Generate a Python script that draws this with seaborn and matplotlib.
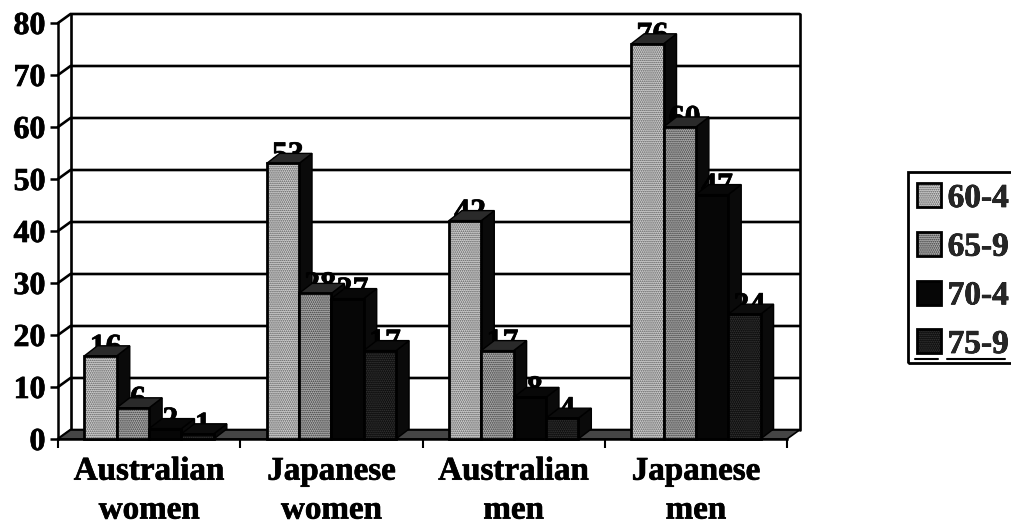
import matplotlib
matplotlib.use("Agg")
import matplotlib.pyplot as plt
import matplotlib.patheffects as pe
from matplotlib.patches import Patch, Polygon, Rectangle
from matplotlib.lines import Line2D
from matplotlib.legend_handler import HandlerTuple
import pandas as pd
import seaborn as sns

groups = ["Australian\nwomen", "Japanese\nwomen", "Australian\nmen", "Japanese\nmen"]
ages = ["60-4", "65-9", "70-4", "75-9"]
age_60_4 = [16, 53, 42, 76]
age_65_9 = [6, 28, 17, 60]
age_70_4 = [2, 27, 8, 47]
age_75_9 = [1, 17, 4, 24]
y_ticks = [0, 10, 20, 30, 40, 50, 60, 70, 80]

face_colors = ["#d2d2d2", "#b0b0b0", "#060606", "#0c0c0c"]
hatch_colors = ["#555555", "#333333", "#060606", "#3a3a3a"]
top_colors = ["#2a2a2a", "#2a2a2a", "#080808", "#0c0c0c"]
side_color = "#0a0a0a"
floor_color = "#454545"

W, H = 1011, 526
sns.set_theme(style="white")
plt.rcParams["font.family"] = ["Liberation Serif", "DejaVu Serif"]
plt.rcParams["font.weight"] = "bold"
plt.rcParams["hatch.linewidth"] = 0.8

heavy = [pe.withStroke(linewidth=0.5, foreground="black")]

fig = plt.figure(figsize=(W / 100, H / 100), dpi=100, facecolor="white")
left, right, top, bottom = 58, 787, 23, 439
ax = fig.add_axes([left / W, 1 - bottom / H, (right - left) / W, (bottom - top) / H])

frame = pd.DataFrame({
    "group": groups * 4,
    "age": [a for a in ages for _ in groups],
    "value": age_60_4 + age_65_9 + age_70_4 + age_75_9,
})
sns.barplot(data=frame, x="group", y="value", hue="age", hue_order=ages, order=groups,
            palette=face_colors, saturation=1, width=0.71, gap=0, dodge=True,
            legend=False, ax=ax, zorder=10)
ax.set_xlim(-0.5, 3.5)
ax.set_ylim(0, 80)
ax.set_xlabel("")
ax.set_ylabel("")

# Pixel depth of the walls and of the bars, converted to data units
px_x = 4 / (right - left)
px_y = 80 / (bottom - top)
wall_dx, wall_dy = 12.5 * px_x, 9 * px_y
bar_dx, bar_dy = 13 * px_x, 10 * px_y

# Back wall, side wall and floor
ax.add_patch(Polygon([(-0.5, 0), (3.5, 0), (3.5 + wall_dx, wall_dy), (-0.5 + wall_dx, wall_dy)],
                     closed=True, facecolor=floor_color, edgecolor="black", lw=1.2,
                     clip_on=False, zorder=3))
for v in y_ticks:
    ax.plot([-0.5, -0.5 + wall_dx, 3.5 + wall_dx], [v, v + wall_dy, v + wall_dy],
            color="black", lw=1.9, clip_on=False, zorder=2, solid_joinstyle="miter")
ax.plot([-0.5 + wall_dx] * 2, [wall_dy, 80 + wall_dy], color="black", lw=1.9, clip_on=False, zorder=2)
ax.plot([3.5 + wall_dx] * 2, [wall_dy, 80 + wall_dy], color="black", lw=1.9, clip_on=False, zorder=2)

# Extruded bars, painted left to right so each front hides its neighbour's side
all_rects = []
for a, container in enumerate(ax.containers):
    for g, rect in enumerate(container):
        all_rects.append((g, a, rect))
all_rects.sort(key=lambda item: (item[0], item[1]))
z = 10.0
for g, a, rect in all_rects:
    x0, w, h = rect.get_x(), rect.get_width(), rect.get_height()
    x1 = x0 + w
    ax.text(x0 + w / 2 + 5 * px_x, h, f"{h:.0f}", ha="center", va="baseline", fontsize=23,
            fontweight="bold", color="black", zorder=z, clip_on=False, path_effects=heavy)
    ax.add_patch(Polygon([(x1, 0), (x1 + bar_dx, bar_dy), (x1 + bar_dx, h + bar_dy), (x1, h)],
                         closed=True, facecolor=side_color, edgecolor="black", lw=1,
                         clip_on=False, zorder=z + 0.1))
    ax.add_patch(Polygon([(x0, h), (x0 + bar_dx, h + bar_dy), (x1 + bar_dx, h + bar_dy), (x1, h)],
                         closed=True, facecolor=top_colors[a], edgecolor="black", lw=1,
                         clip_on=False, zorder=z + 0.2))
    rect.set_zorder(z + 0.3)
    rect.set_edgecolor(hatch_colors[a])
    rect.set_linewidth(0)
    rect.set_hatch("........")
    ax.add_patch(Rectangle((x0, 0), w, h, fill=False, edgecolor="black", lw=2,
                           clip_on=False, zorder=z + 0.4))
    z += 1

# Axes: value ticks on the left, group separators along the floor
for name in ("top", "right"):
    ax.spines[name].set_visible(False)
for name in ("left", "bottom"):
    ax.spines[name].set_visible(True)
    ax.spines[name].set_color("black")
    ax.spines[name].set_linewidth(1.8)
    ax.spines[name].set_zorder(5)
ax.set_yticks(y_ticks)
ax.set_xticks([-0.5, 0.5, 1.5, 2.5, 3.5], minor=True)
ax.tick_params(axis="y", which="major", left=True, length=6, width=1.8, color="black", pad=3,
               labelsize=23, labelcolor="black")
ax.tick_params(axis="x", which="major", length=0, pad=12, labelsize=23.8, labelcolor="black")
ax.tick_params(axis="x", which="minor", bottom=True, length=6.5, width=1.5, color="black")
for label in ax.get_xticklabels():
    label.set_linespacing(1.33)
    label.set_fontweight("bold")
    label.set_path_effects(heavy)
for label in ax.get_yticklabels():
    label.set_fontweight("bold")
    label.set_path_effects(heavy)

# Legend box runs off the right side of the page
fig.add_artist(Rectangle((908 / W, 1 - 363 / H), 120 / W, 191 / H, fill=False, edgecolor="black",
                         lw=2, transform=fig.transFigure, zorder=19))
handles = [(Patch(facecolor=face_colors[i], edgecolor=hatch_colors[i], hatch="........", lw=0),
            Patch(fill=False, edgecolor="black", lw=2))
           for i in range(4)]
legend = fig.legend(handles, ages, loc="upper left", bbox_to_anchor=(908 / W, 1 - 174 / H),
                    borderaxespad=0, frameon=False, handlelength=0.72, handleheight=0.72,
                    handletextpad=0.2, labelspacing=0.53, borderpad=0.27,
                    prop={"family": "Liberation Serif", "weight": "bold", "size": 24},
                    handler_map={tuple: HandlerTuple(ndivide=1, pad=0)})
for text in legend.get_texts():
    text.set_path_effects(heavy)

# Rule beneath the last legend row
for x_a, x_b in ((915, 938), (947, 1005)):
    fig.add_artist(Line2D([x_a / W, x_b / W], [1 - 359 / H] * 2, color="black", lw=1.5,
                          transform=fig.transFigure, zorder=20))

fig.savefig("out.png", dpi=100)
